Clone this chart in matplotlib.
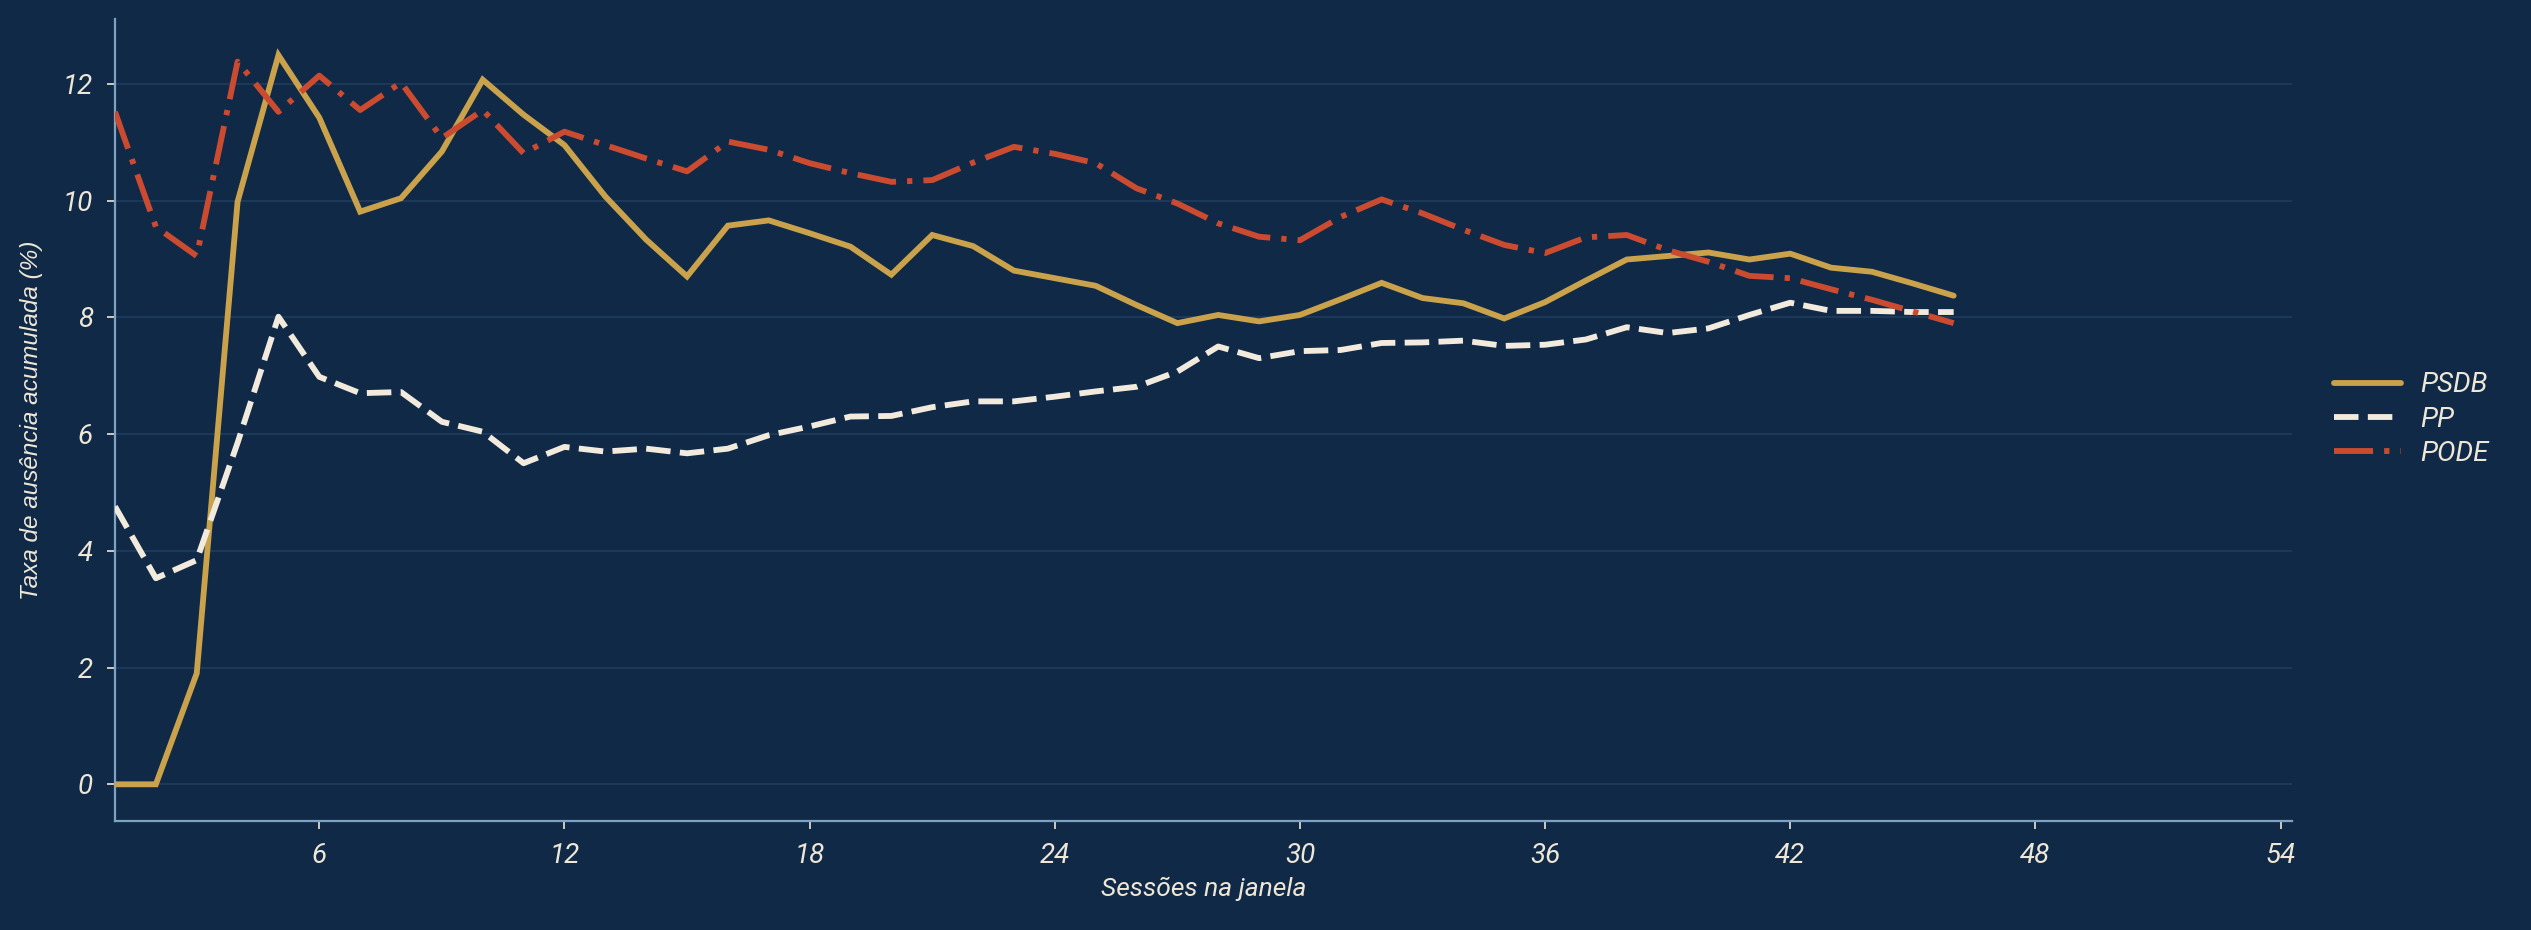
import matplotlib
matplotlib.use("Agg")
import matplotlib.pyplot as plt
import numpy as np

# ---- data ----
sessoes = list(range(1, 47))
psdb = [0, 0, 1.9, 9.98, 12.49, 11.42, 9.81, 10.04, 10.84, 12.07, 11.47, 10.95,
        10.07, 9.33, 8.70, 9.57, 9.66, 9.44, 9.21, 8.73, 9.41, 9.22, 8.80, 8.67,
        8.54, 8.21, 7.90, 8.04, 7.93, 8.04, 8.31, 8.59, 8.33, 8.24, 7.98, 8.26,
        8.63, 8.99, 9.05, 9.11, 8.99, 9.09, 8.85, 8.78, 8.58, 8.37]
pp = [4.76, 3.53, 3.84, 5.85, 8.01, 6.98, 6.70, 6.72, 6.21, 6.04, 5.50, 5.78,
      5.70, 5.75, 5.67, 5.75, 5.98, 6.13, 6.30, 6.31, 6.46, 6.56, 6.56, 6.64,
      6.73, 6.81, 7.07, 7.50, 7.30, 7.42, 7.44, 7.56, 7.57, 7.60, 7.51, 7.53,
      7.62, 7.83, 7.73, 7.81, 8.04, 8.25, 8.11, 8.11, 8.09, 8.09]
pode = [11.52, 9.55, 9.05, 12.38, 11.52, 12.14, 11.55, 12.02, 11.07, 11.55, 10.81, 11.18,
        10.95, 10.72, 10.50, 11.01, 10.87, 10.64, 10.47, 10.32, 10.35, 10.65, 10.92, 10.80,
        10.64, 10.21, 9.95, 9.61, 9.38, 9.32, 9.72, 10.02, 9.78, 9.50, 9.24, 9.10,
        9.37, 9.41, 9.15, 8.95, 8.71, 8.67, 8.48, 8.30, 8.10, 7.90]
series_names = ["PSDB", "PP", "PODE"]
x_ticks = [6, 12, 18, 24, 30, 36, 42, 48, 54]
y_ticks = [0, 2, 4, 6, 8, 10, 12]

# ---- style ----
BG = "#102947"
GRID = "#1D3A5B"
SPINE = "#7EA2C2"
TEXT = "#EEE7D7"
C_PSDB = "#C9A24B"
C_PP = "#F2EBDD"
C_PODE = "#CB4B30"

fig = plt.figure(figsize=(25.31, 9.30), dpi=100, facecolor=BG)
ax = fig.add_axes([115 / 2531, 109.5 / 930, 2177 / 2531, 801.5 / 930], facecolor=BG)

lw = 4.2
ax.plot(sessoes, psdb, color=C_PSDB, lw=lw, solid_capstyle="round",
        solid_joinstyle="miter", label=series_names[0], zorder=3)
ax.plot(sessoes, pp, color=C_PP, lw=lw, dashes=(4.2, 1.6),
        label=series_names[1], zorder=3)
ax.plot(sessoes, pode, color=C_PODE, lw=lw, dashes=(6.7, 1.9, 0.9, 1.9),
        label=series_names[2], zorder=3)

ax.set_xlim(1, 54.28)
ax.set_ylim(-0.62, 13.11)
ax.set_xticks(x_ticks)
ax.set_yticks(y_ticks)

ax.yaxis.grid(True, color=GRID, lw=1.4, zorder=0)
ax.xaxis.grid(False)
ax.set_axisbelow(True)

for s in ["top", "right"]:
    ax.spines[s].set_visible(False)
for s in ["left", "bottom"]:
    ax.spines[s].set_color(SPINE)
    ax.spines[s].set_linewidth(1.6)

ax.tick_params(axis="both", colors=TEXT, length=6, width=1.2, pad=10, direction="out")
for lab in ax.get_xticklabels() + ax.get_yticklabels():
    lab.set_fontfamily("Roboto")
    lab.set_fontstyle("italic")
    lab.set_fontsize(20)
    lab.set_color(TEXT)

ax.set_xlabel("Sessões na janela", fontfamily="Roboto", fontstyle="italic",
              fontsize=19, color=TEXT, labelpad=6)
ax.set_ylabel("Taxa de ausência acumulada (%)", fontfamily="Liberation Sans",
              fontstyle="italic", fontsize=17.5, color=TEXT, labelpad=14)

leg = ax.legend(loc="center left", bbox_to_anchor=(1.008, 0.5), frameon=False,
                handlelength=2.4, handletextpad=0.7, labelspacing=0.3,
                prop=dict(family="Roboto", style="italic", size=20))
for t in leg.get_texts():
    t.set_color(TEXT)

fig.savefig("out.png", dpi=100, facecolor=BG)
